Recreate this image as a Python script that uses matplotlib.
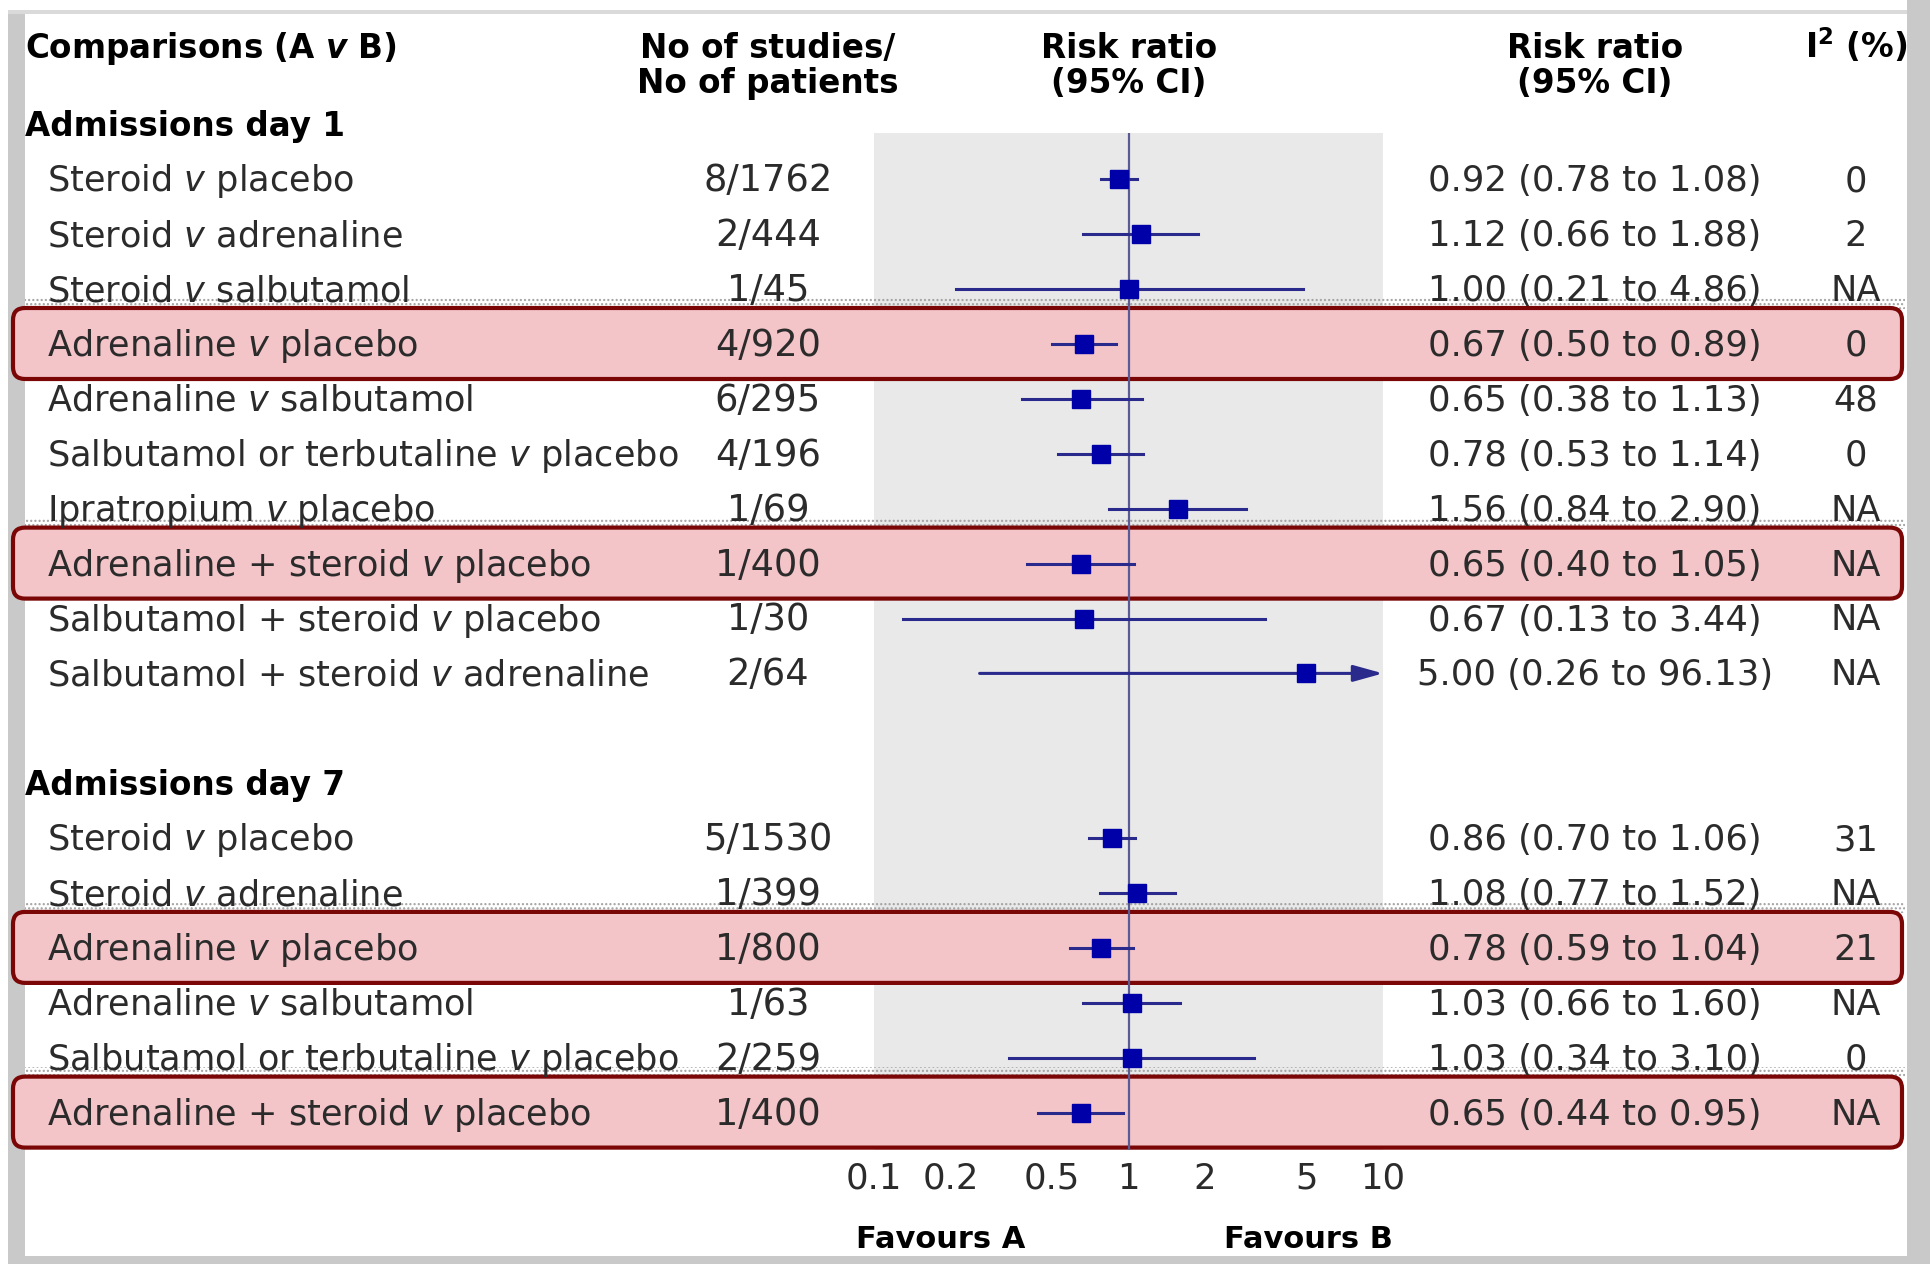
import numpy as np
import matplotlib
matplotlib.use('Agg')
import matplotlib.pyplot as plt
from matplotlib.patches import FancyBboxPatch, Rectangle
from matplotlib.transforms import blended_transform_factory
from matplotlib.ticker import NullLocator

plt.rcParams['font.family'] = ['DejaVu Sans']
plt.rcParams['mathtext.fontset'] = 'custom'
plt.rcParams['mathtext.rm'] = 'DejaVu Sans'
plt.rcParams['mathtext.it'] = 'DejaVu Sans:italic'
plt.rcParams['mathtext.bf'] = 'DejaVu Sans:bold'
plt.rcParams['mathtext.bfit'] = 'DejaVu Sans:italic:bold'

# --- Data: admissions day 1
day1_labels = ['Steroid $v$ placebo', 'Steroid $v$ adrenaline', 'Steroid $v$ salbutamol',
               'Adrenaline $v$ placebo', 'Adrenaline $v$ salbutamol',
               'Salbutamol or terbutaline $v$ placebo', 'Ipratropium $v$ placebo',
               'Adrenaline + steroid $v$ placebo', 'Salbutamol + steroid $v$ placebo',
               'Salbutamol + steroid $v$ adrenaline']
day1_counts = ['8/1762', '2/444', '1/45', '4/920', '6/295', '4/196', '1/69', '1/400', '1/30', '2/64']
day1_rr = [0.92, 1.12, 1.00, 0.67, 0.65, 0.78, 1.56, 0.65, 0.67, 5.00]
day1_lo = [0.78, 0.66, 0.21, 0.50, 0.38, 0.53, 0.84, 0.40, 0.13, 0.26]
day1_hi = [1.08, 1.88, 4.86, 0.89, 1.13, 1.14, 2.90, 1.05, 3.44, 96.13]
day1_i2 = ['0', '2', 'NA', '0', '48', '0', 'NA', 'NA', 'NA', 'NA']
day1_hl = [False, False, False, True, False, False, False, True, False, False]

# --- Data: admissions day 7
day7_labels = ['Steroid $v$ placebo', 'Steroid $v$ adrenaline', 'Adrenaline $v$ placebo',
               'Adrenaline $v$ salbutamol', 'Salbutamol or terbutaline $v$ placebo',
               'Adrenaline + steroid $v$ placebo']
day7_counts = ['5/1530', '1/399', '1/800', '1/63', '2/259', '1/400']
day7_rr = [0.86, 1.08, 0.78, 1.03, 1.03, 0.65]
day7_lo = [0.70, 0.77, 0.59, 0.66, 0.34, 0.44]
day7_hi = [1.06, 1.52, 1.04, 1.60, 3.10, 0.95]
day7_i2 = ['31', 'NA', '21', 'NA', '0', 'NA']
day7_hl = [False, False, True, False, False, True]

ticks = [0.1, 0.2, 0.5, 1, 2, 5, 10]
tick_labels = ['0.1', '0.2', '0.5', '1', '2', '5', '10']

# --------------------------------------------------------------------------------
# layout (pixels)
W, H = 1931, 1264
y0, dy = 124.4, 54.9
x_head, x_lab, x_cnt, x_ci, x_i2 = 25, 47, 768, 1595, 1856
txt_col = '#2b2b2b'
fs, fs_cnt, fs_ci, fs_b = 25.3, 26.5, 25.5, 23.5

fig = plt.figure(figsize=(W/100, H/100), dpi=100)
ax_bg = fig.add_axes([0, 0, 1, 1])
ax_bg.set_xlim(0, W)
ax_bg.set_ylim(H, 0)
ax_bg.axis('off')

ax = fig.add_axes([874/W, 0, (1383-874)/W, 1])
ax.set_xscale('log')
ax.set_xlim(0.1, 10)
ax.set_ylim(H, 0)
ax.patch.set_alpha(0)
ax.set_yticks([])
for s in ['top', 'left', 'right']:
    ax.spines[s].set_visible(False)
ax.spines['bottom'].set_position(('data', 1150))
ax.spines['bottom'].set_color('none')
ax.set_xticks(ticks, tick_labels)
ax.xaxis.set_minor_locator(NullLocator())
ax.tick_params(axis='x', length=0, pad=8.6, labelsize=25.5, labelcolor=txt_col)

# frame
ax_bg.add_patch(Rectangle((8, 10), 17, H-10, color='#c9c9c9', lw=0))
ax_bg.add_patch(Rectangle((1907, 0), W-1907, H, color='#c9c9c9', lw=0))
ax_bg.add_patch(Rectangle((8, 1256), W-8, H-1256, color='#c9c9c9', lw=0))
ax_bg.add_patch(Rectangle((8, 10), 1899, 4, color='#dadada', lw=0))

# shaded forest region
tr = blended_transform_factory(ax.transData, ax_bg.transData)
ax_bg.add_patch(Rectangle((0.1, 133), 10-0.1, 1150-133, transform=tr,
                          color='#e9e9e9', lw=0, zorder=1))


def text_b(x, y, s, **kw):
    ax_bg.text(x, y+12, s, va='baseline', zorder=5, **kw)


# headers
hd = dict(fontsize=fs_b, fontweight='bold', color='black')
text_b(x_head, 45.6, r'Comparisons (A $\mathbfit{v}$ B)', **hd)
text_b(x_cnt, 45.6, 'No of studies/', ha='center', **hd)
text_b(x_cnt, 81.3, 'No of patients', ha='center', **hd)
text_b(1129, 45.6, 'Risk ratio', ha='center', **hd)
text_b(1129, 81.3, '(95% CI)', ha='center', **hd)
text_b(x_ci, 45.6, 'Risk ratio', ha='center', **hd)
text_b(x_ci, 81.3, '(95% CI)', ha='center', **hd)
text_b(x_i2, 45.6, r'I$^{\mathbf{2}}$ (%)', ha='center', **hd)
text_b(941, 1236, 'Favours A', fontsize=22, fontweight='bold', ha='center', color='black')
text_b(1308, 1236, 'Favours B', fontsize=22, fontweight='bold', ha='center', color='black')

ax.vlines(1, 133, 1150, color='#5a5a95', lw=1.6, zorder=2)

groups = [('Admissions day 1', 0, day1_labels, day1_counts, day1_rr, day1_lo, day1_hi, day1_i2, day1_hl),
          ('Admissions day 7', 12, day7_labels, day7_counts, day7_rr, day7_lo, day7_hi, day7_i2, day7_hl)]

for title, i0, labels, counts, rr, lo, hi, i2, hl in groups:
    text_b(x_head, y0 + i0*dy, title, **hd)
    for k in range(len(labels)):
        y = y0 + (i0 + 1 + k)*dy
        if hl[k]:
            ax_bg.add_patch(Rectangle((25, y-46), 1880, 11, facecolor='none', edgecolor='#a0a0a0',
                                      hatch='....', lw=0, zorder=2))
            ax_bg.add_patch(FancyBboxPatch((13, y-36), 1889, 71, boxstyle='round,pad=0,rounding_size=12',
                                           facecolor='#f3c4c8', edgecolor='#7a0606', lw=3, zorder=3))
        text_b(x_lab, y, labels[k], fontsize=fs, color=txt_col)
        text_b(x_cnt, y, counts[k], fontsize=fs_cnt, color=txt_col, ha='center')
        text_b(x_ci, y, f'{rr[k]:.2f} ({lo[k]:.2f} to {hi[k]:.2f})', fontsize=fs_ci, color=txt_col, ha='center')
        text_b(x_i2, y, i2[k], fontsize=fs, color=txt_col, ha='center')
        if hi[k] > 10:
            ax.annotate('', xy=(10, y), xytext=(lo[k], y),
                        arrowprops=dict(arrowstyle='-|>,head_length=0.9,head_width=0.25',
                                        color='#2a2a8c', lw=2.2, mutation_scale=20,
                                        shrinkA=0, shrinkB=0), zorder=4)
        else:
            ax.plot([lo[k], hi[k]], [y, y], color='#2a2a8c', lw=2.2, zorder=4)
        ax.plot(rr[k], y, 's', color='#0000a8', ms=13.5, zorder=5)

fig.savefig('out.png', dpi=100)
